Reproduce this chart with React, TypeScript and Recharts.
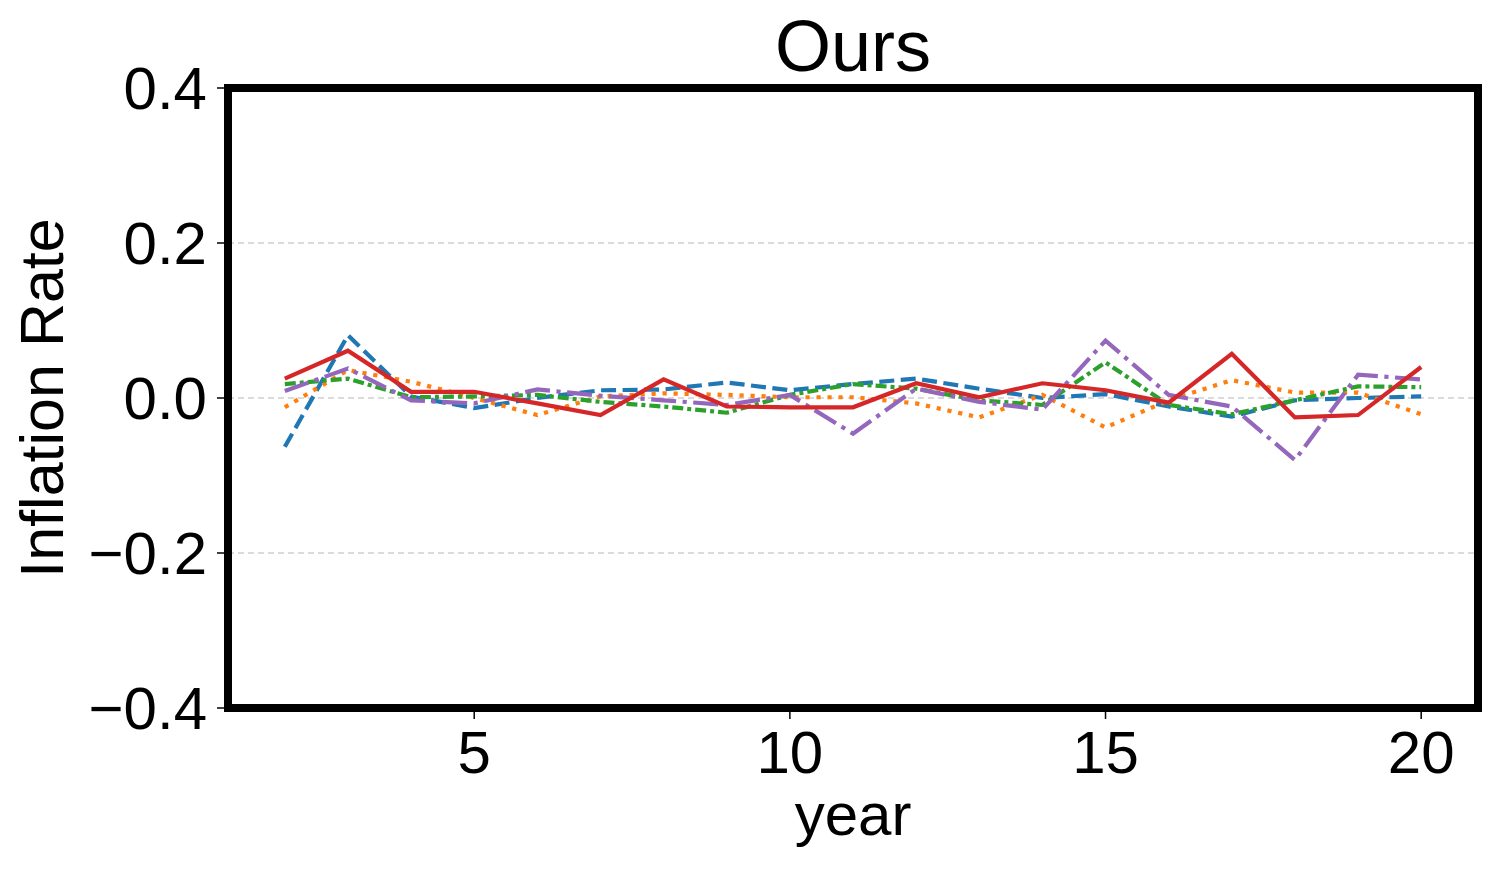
import React from 'react';
import { LineChart, Line, XAxis, YAxis, CartesianGrid, ReferenceArea, Label } from 'recharts';

const years = [2, 3, 4, 5, 6, 7, 8, 9, 10, 11, 12, 13, 14, 15, 16, 17, 18, 19, 20];
const blue = [-0.063, 0.081, 0.002, -0.013, 0.0, 0.01, 0.011, 0.02, 0.01, 0.018, 0.025, 0.012, 0.0, 0.005, -0.011, -0.024, -0.003, 0.0, 0.002];
const orange = [-0.012, 0.036, 0.021, 0.0, -0.022, 0.002, 0.006, 0.004, 0.001, 0.001, -0.007, -0.025, 0.004, -0.038, -0.003, 0.023, 0.007, 0.007, -0.021];
const green = [0.018, 0.025, 0.001, 0.002, 0.004, -0.005, -0.011, -0.019, 0.004, 0.018, 0.012, -0.003, -0.009, 0.046, -0.009, -0.021, -0.003, 0.015, 0.014];
const purple = [0.009, 0.038, -0.003, -0.007, 0.011, 0.003, -0.003, -0.009, 0.004, -0.046, 0.012, -0.005, -0.015, 0.074, 0.004, -0.011, -0.08, 0.03, 0.024];
const red = [0.025, 0.061, 0.008, 0.008, -0.007, -0.022, 0.024, -0.011, -0.012, -0.012, 0.019, 0.001, 0.019, 0.01, -0.006, 0.057, -0.025, -0.022, 0.04];

const xTicks = [5, 10, 15, 20];
const yTicks = [-0.4, -0.2, 0, 0.2, 0.4];
const xDomain = [1.1, 20.9];
const yDomain = [-0.4, 0.4];

const data = years.map((y, i) => ({
  year: y,
  blue: blue[i],
  orange: orange[i],
  green: green[i],
  purple: purple[i],
  red: red[i],
}));

const FONT = '"Liberation Sans", Arial, sans-serif';

const fmtY = (v: number) => (v < 0 ? '\u2212' : '') + Math.abs(v).toFixed(1);

const XLabel = (props: any) => {
  const vb = props.viewBox || {};
  return (
    <text x={vb.x + vb.width / 2} y={vb.y + 127} textAnchor="middle" fontSize={60} fontFamily={FONT} fill="#000">
      year
    </text>
  );
};

const YLabel = (props: any) => {
  const vb = props.viewBox || {};
  const cx = 55;
  const cy = vb.y + vb.height / 2;
  return (
    <text x={cx} y={cy} textAnchor="middle" fontSize={61} fontFamily={FONT} fill="#000" transform={`rotate(-90, ${cx}, ${cy})`}>
      Inflation Rate
    </text>
  );
};

const TitleLabel = (props: any) => {
  const vb = props.viewBox || {};
  return (
    <text x={vb.x + vb.width / 2} y={vb.y - 17} textAnchor="middle" fontSize={72} fontFamily={FONT} fill="#000">
      Ours
    </text>
  );
};

export default function App() {
  const lw = 4.2;
  return (
    <div style={{ width: 1488, height: 864 }}>
      <LineChart width={1488} height={864} data={data} margin={{ top: 80, right: 18, bottom: 0, left: 0 }}>
        <CartesianGrid vertical={false} stroke="#d0d0d0" strokeDasharray="6 4" strokeWidth={1.5} />
        <XAxis
          dataKey="year"
          type="number"
          domain={xDomain}
          ticks={xTicks}
          allowDataOverflow
          height={164}
          axisLine={false}
          tickSize={11}
          tickMargin={11}
          tickLine={{ stroke: '#000', strokeWidth: 1.5 }}
          tick={{ fontSize: 60, fontFamily: FONT, fill: '#000' }}
        >
          <Label content={<XLabel />} />
        </XAxis>
        <YAxis
          type="number"
          domain={yDomain}
          ticks={yTicks}
          allowDataOverflow
          width={220}
          axisLine={false}
          tickSize={11}
          tickMargin={10}
          tickLine={{ stroke: '#000', strokeWidth: 1.5 }}
          tickFormatter={fmtY}
          tick={{ fontSize: 60, fontFamily: FONT, fill: '#000' }}
        >
          <Label content={<YLabel />} />
        </YAxis>
        <Line dataKey="blue" stroke="#1f77b4" strokeWidth={lw} strokeDasharray="15 6.5" dot={false} isAnimationActive={false} />
        <Line dataKey="orange" stroke="#ff7f0e" strokeWidth={lw} strokeDasharray="4.2 6.8" dot={false} isAnimationActive={false} />
        <Line dataKey="green" stroke="#2ca02c" strokeWidth={lw} strokeDasharray="11 4 4 4" dot={false} isAnimationActive={false} />
        <Line dataKey="purple" stroke="#9467bd" strokeWidth={lw} strokeDasharray="25 6.5 4.2 6.5" dot={false} isAnimationActive={false} />
        <Line dataKey="red" stroke="#d62728" strokeWidth={lw} dot={false} isAnimationActive={false} />
        <ReferenceArea
          x1={xDomain[0]}
          x2={xDomain[1]}
          y1={yDomain[0]}
          y2={yDomain[1]}
          fill="none"
          fillOpacity={0}
          stroke="#000"
          strokeWidth={8}
          ifOverflow="visible"
        >
          <Label content={<TitleLabel />} />
        </ReferenceArea>
      </LineChart>
    </div>
  );
}
